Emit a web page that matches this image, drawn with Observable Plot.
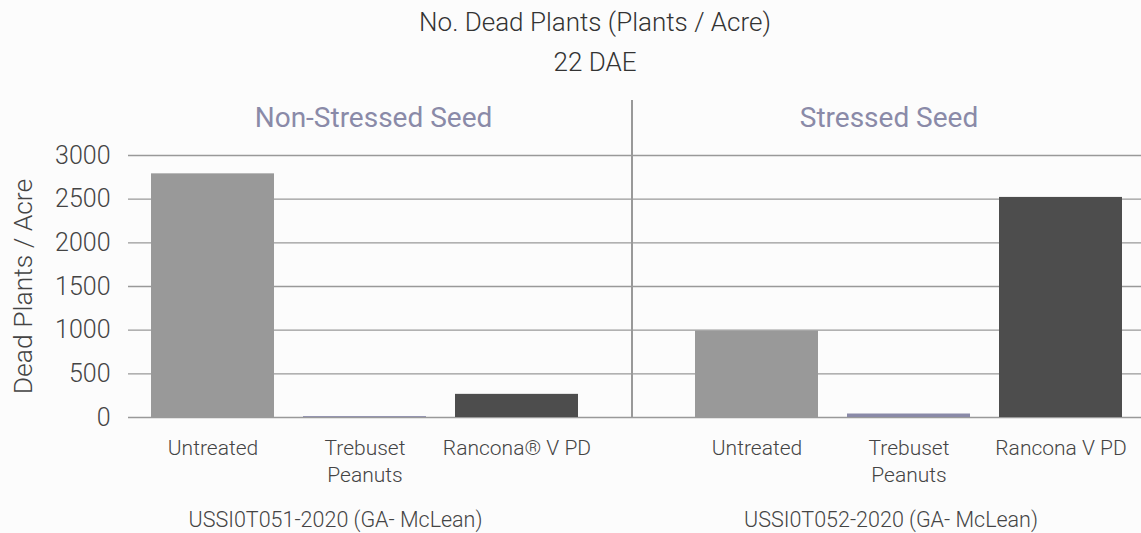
<!DOCTYPE html>
<html><head><meta charset="utf-8">
<script src="https://cdn.jsdelivr.net/npm/d3@7"></script>
<script src="https://cdn.jsdelivr.net/npm/@observablehq/plot@0.6"></script>
<style>
body{margin:0;background:#fcfcfc;font-family:Roboto,"Liberation Sans",Arial,sans-serif;font-weight:300;}
#wrap{position:relative;width:1141px;height:533px;overflow:hidden;background:#fcfcfc;}
.title{position:absolute;left:595px;transform:translateX(-50%);white-space:nowrap;color:#333;font-size:26px;line-height:30px;font-weight:300;}
#divider{position:absolute;left:631px;top:100px;height:317px;border-left:2px solid #999;}
#a,#b{position:absolute;top:90px;}
#a{left:0}#b{left:632px}
</style></head>
<body><div id="wrap">
<div class="title" id="t1" style="top:7px"></div>
<div class="title" id="t2" style="top:47px"></div>
<div id="a"></div><div id="b"></div>
<div id="divider"></div>
</div>
<script>
const chartTitle = "No. Dead Plants (Plants / Acre)";
const chartSubtitle = "22 DAE";
const yLabel = "Dead Plants / Acre";
const groups = ["Non-Stressed Seed", "Stressed Seed"];
const trials = ["USSI0T051-2020 (GA- McLean)", "USSI0T052-2020 (GA- McLean)"];
const treatments = ["Untreated", "Trebuset Peanuts", "Rancona V PD"];
const nonStressedLabels = ["Untreated", "Trebuset\nPeanuts", "Rancona® V PD"];
const stressedLabels = ["Untreated", "Trebuset\nPeanuts", "Rancona V PD"];
const nonStressedValues = [2790, 10, 265];
const stressedValues = [990, 40, 2520];
const treatmentColors = ["#999999", "#8a8aa8", "#4d4d4d"];
const yTicks = [0, 500, 1000, 1500, 2000, 2500, 3000];

document.getElementById("t1").textContent = chartTitle;
document.getElementById("t2").textContent = chartSubtitle;

const font = 'Roboto, "Liberation Sans", Arial, sans-serif';

function panel({width, marginLeft, xRange, values, labels, group, trial, showY, headerDx, trialDx}) {
  const data = treatments.map((t, i) => ({treatment: t, value: values[i]}));
  const marks = [
    Plot.gridY(yTicks, {stroke: "#999", strokeOpacity: 1, strokeWidth: 1.4}),
    Plot.barY(data, {x: "treatment", y: "value", fill: "treatment"}),
    Plot.axisX({tickSize: 0, tickPadding: 18, fontSize: 21, fill: "#444", fontWeight: 300, lineHeight: 1.3,
      tickFormat: d => labels[treatments.indexOf(d)], label: null}),
    Plot.text([group], {text: d => d, frameAnchor: "top", lineAnchor: "middle", dy: -37, dx: headerDx, fontSize: 28, fill: "#8a8aa8", fontWeight: 400}),
    Plot.text([trial], {text: d => d, frameAnchor: "bottom", lineAnchor: "middle", dy: 103, dx: trialDx, fontSize: 21.5, fill: "#444", fontWeight: 300})
  ];
  if (showY) marks.push(
    Plot.axisY(yTicks, {tickSize: 0, tickPadding: 18, fontSize: 25, fill: "#444", fontWeight: 300,
      tickFormat: d => String(d), label: null}),
    Plot.text([yLabel], {text: d => d, frameAnchor: "left", textAnchor: "middle", lineAnchor: "middle", rotate: -90, dx: -105, fontSize: 26.5, fill: "#444", fontWeight: 300})
  );
  return Plot.plot({
    width, height: 443, marginTop: 65, marginBottom: 116, marginLeft, marginRight: 0,
    style: {background: "transparent", fontFamily: font, fontSize: "20px", color: "#444", fontWeight: 300, overflow: "visible"},
    x: {domain: treatments, range: xRange, paddingInner: 0.19, paddingOuter: 0, axis: null},
    y: {domain: [0, 3000], axis: null},
    color: {domain: treatments, range: treatmentColors},
    marks
  });
}

document.getElementById("a").append(panel({width: 632, marginLeft: 128, xRange: [151, 579],
  values: nonStressedValues, labels: nonStressedLabels, group: groups[0], trial: trials[0], showY: true, headerDx: -7, trialDx: -45}));
document.getElementById("b").append(panel({width: 509, marginLeft: 0, xRange: [63, 491],
  values: stressedValues, labels: stressedLabels, group: groups[1], trial: trials[1], showY: false, headerDx: 2, trialDx: 4}));
</script>
</body></html>
